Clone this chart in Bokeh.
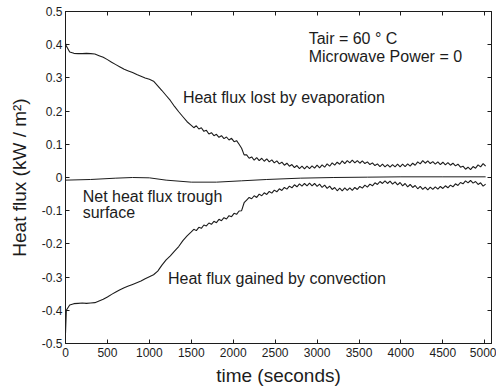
from bokeh.plotting import figure
from bokeh.models import Range1d, LinearAxis, Label, FixedTicker
from bokeh.embed import file_html
from bokeh.resources import INLINE

# ---------------- data ----------------
time_s = [0, 10, 50, 100, 150, 200, 250, 300, 350, 400, 450, 500, 550, 600, 650, 700,
          750, 800, 850, 900, 950, 1000, 1050, 1100, 1150, 1200, 1250, 1300, 1350, 1400, 1450,
          1500, 1530, 1560, 1590, 1620, 1650, 1680, 1710, 1740, 1770,
          1800, 1830, 1860, 1890, 1920, 1950, 1980, 2010, 2040, 2070,
          2100, 2130, 2160, 2190, 2220, 2250, 2280, 2310, 2340, 2370,
          2400, 2430, 2460, 2490, 2520, 2550, 2580, 2610, 2640, 2670,
          2700, 2730, 2760, 2790, 2820, 2850, 2880, 2910, 2940, 2970,
          3000, 3030, 3060, 3090, 3120, 3150, 3180, 3210, 3240, 3270,
          3300, 3330, 3360, 3390, 3420, 3450, 3480, 3510, 3540, 3570,
          3600, 3630, 3660, 3690, 3720, 3750, 3780, 3810, 3840, 3870,
          3900, 3930, 3960, 3990, 4020, 4050, 4080, 4110, 4140, 4170,
          4200, 4230, 4260, 4290, 4320, 4350, 4380, 4410, 4440, 4470,
          4500, 4530, 4560, 4590, 4620, 4650, 4680, 4710, 4740, 4770,
          4800, 4830, 4860, 4890, 4920, 4950, 4980, 5010]

evaporation = [0.404, 0.396, 0.378, 0.374, 0.373, 0.373, 0.374, 0.373, 0.372, 0.367, 0.362,
               0.355, 0.347, 0.340, 0.333, 0.326, 0.321, 0.316, 0.310, 0.305, 0.300, 0.296,
               0.290, 0.276, 0.262, 0.247, 0.232, 0.214, 0.198, 0.183, 0.168,
               0.157, 0.150, 0.156, 0.146, 0.150, 0.139, 0.142, 0.131, 0.135, 0.126,
               0.130, 0.121, 0.126, 0.117, 0.122, 0.113, 0.118, 0.108, 0.111, 0.100,
               0.088, 0.068, 0.068, 0.058, 0.062, 0.052, 0.060, 0.051, 0.058, 0.049,
               0.056, 0.047, 0.053, 0.044, 0.050, 0.041, 0.046, 0.037, 0.043, 0.034,
               0.039, 0.030, 0.036, 0.027, 0.034, 0.026, 0.034, 0.027, 0.035, 0.028,
               0.037, 0.029, 0.038, 0.031, 0.041, 0.034, 0.044, 0.037, 0.046, 0.040,
               0.050, 0.042, 0.051, 0.044, 0.052, 0.044, 0.051, 0.043, 0.050, 0.042,
               0.047, 0.039, 0.044, 0.036, 0.041, 0.033, 0.040, 0.032, 0.039, 0.031,
               0.039, 0.032, 0.040, 0.032, 0.040, 0.033, 0.041, 0.034, 0.043, 0.037,
               0.047, 0.041, 0.051, 0.043, 0.050, 0.042, 0.048, 0.040, 0.047, 0.039,
               0.046, 0.038, 0.045, 0.037, 0.043, 0.035, 0.040, 0.031, 0.034, 0.025,
               0.031, 0.024, 0.033, 0.028, 0.038, 0.032, 0.042, 0.034]

convection = [-0.470, -0.400, -0.384, -0.380, -0.379, -0.378, -0.379, -0.378, -0.377, -0.372,
              -0.367, -0.360, -0.352, -0.345, -0.338, -0.332, -0.327, -0.322, -0.317, -0.312,
              -0.305, -0.299, -0.293, -0.282, -0.264, -0.248, -0.236, -0.222, -0.208, -0.190,
              -0.176,
              -0.164, -0.156, -0.160, -0.150, -0.153, -0.143, -0.146, -0.137, -0.141, -0.132,
              -0.136, -0.126, -0.130, -0.121, -0.125, -0.115, -0.118, -0.108, -0.111, -0.101,
              -0.100, -0.076, -0.068, -0.060, -0.064, -0.055, -0.060, -0.050, -0.055, -0.046,
              -0.051, -0.042, -0.047, -0.038, -0.043, -0.034, -0.039, -0.030, -0.035, -0.026,
              -0.031, -0.022, -0.028, -0.019, -0.026, -0.018, -0.025, -0.017, -0.025, -0.018,
              -0.027, -0.020, -0.030, -0.023, -0.033, -0.026, -0.036, -0.030, -0.040, -0.032,
              -0.040, -0.031, -0.039, -0.031, -0.039, -0.030, -0.036, -0.027, -0.032, -0.023,
              -0.029, -0.020, -0.025, -0.016, -0.021, -0.012, -0.018, -0.010, -0.018, -0.011,
              -0.020, -0.013, -0.022, -0.015, -0.025, -0.018, -0.028, -0.021, -0.030, -0.024,
              -0.034, -0.027, -0.036, -0.029, -0.037, -0.029, -0.036, -0.028, -0.035, -0.027,
              -0.033, -0.025, -0.031, -0.023, -0.028, -0.019, -0.024, -0.015, -0.019, -0.010,
              -0.016, -0.009, -0.017, -0.012, -0.021, -0.016, -0.026, -0.020]

t_net = [0, 300, 600, 800, 1000, 1200, 1500, 1800, 2100, 2400, 2800, 3200, 3600, 4000,
         4500, 5010]
net_flux = [-0.008, -0.006, -0.002, 0.000, -0.001, -0.008, -0.014, -0.014, -0.010, -0.006,
            -0.002, 0.000, 0.001, 0.002, 0.002, 0.002]

x_ticks = [0, 500, 1000, 1500, 2000, 2500, 3000, 3500, 4000, 4500, 5000]
y_ticks = [-0.5, -0.4, -0.3, -0.2, -0.1, 0, 0.1, 0.2, 0.3, 0.4, 0.5]
y_tick_labels = ["-0.5", "-0.4", "-0.3", "-0.2", "-0.1", "0", "0.1", "0.2", "0.3", "0.4", "0.5"]

FONT = "Liberation Sans"
INK = "#1c1c1c"

p = figure(width=496, height=388, output_backend="svg", toolbar_location=None,
           x_range=Range1d(0, 5080), y_range=Range1d(-0.5, 0.5),
           min_border_left=65, min_border_right=5, min_border_top=11, min_border_bottom=43)
p.background_fill_color = "white"
p.border_fill_color = "white"
p.outline_line_color = INK
p.outline_line_width = 1
p.xgrid.visible = False
p.ygrid.visible = False

def style_axis(ax, ticks, show_labels):
    ax.ticker = FixedTicker(ticks=ticks)
    ax.major_tick_in = 4
    ax.major_tick_out = 0
    ax.minor_tick_line_color = None
    ax.major_tick_line_color = INK
    ax.axis_line_color = INK
    ax.major_label_text_font = FONT
    ax.major_label_text_color = INK
    ax.major_label_text_font_size = "12px"
    if not show_labels:
        ax.major_label_overrides = {t: "" for t in ticks}
        ax.major_label_standoff = 0

style_axis(p.xaxis[0], x_ticks, True)
style_axis(p.yaxis[0], y_ticks, True)
p.xaxis[0].major_label_standoff = 4
p.yaxis[0].major_label_standoff = 3
p.yaxis[0].major_label_overrides = dict(zip(y_ticks, y_tick_labels))

p.xaxis[0].axis_label = "time (seconds)"
p.yaxis[0].axis_label = "Heat flux (kW / m²)"
for ax in (p.xaxis[0], p.yaxis[0]):
    ax.axis_label_text_font = FONT
    ax.axis_label_text_font_size = "19px"
    ax.axis_label_text_font_style = "normal"
    ax.axis_label_text_color = INK
p.xaxis[0].axis_label_standoff = 5
p.yaxis[0].axis_label_standoff = 9

top = LinearAxis()
right = LinearAxis()
style_axis(top, x_ticks, False)
style_axis(right, y_ticks, False)
p.add_layout(top, "above")
p.add_layout(right, "right")

p.line(time_s, evaporation, line_color=INK, line_width=1.1)
p.line(time_s, convection, line_color=INK, line_width=1.1)
p.line(t_net, net_flux, line_color=INK, line_width=1.0)

def lab(x, y, s):
    p.add_layout(Label(x=x, y=y, text=s, text_font=FONT, text_font_size="16px",
                       text_color=INK, text_baseline="middle", text_align="left"))

lab(2900, 0.419, "Tair = 60 ° C")
lab(2900, 0.365, "Microwave Power = 0")
lab(1400, 0.240, "Heat flux lost by evaporation")
lab(205, -0.057, "Net heat flux trough")
lab(205, -0.105, "surface")
lab(1222, -0.305, "Heat flux gained by convection")

open("out.html", "w").write(file_html(p, INLINE))
